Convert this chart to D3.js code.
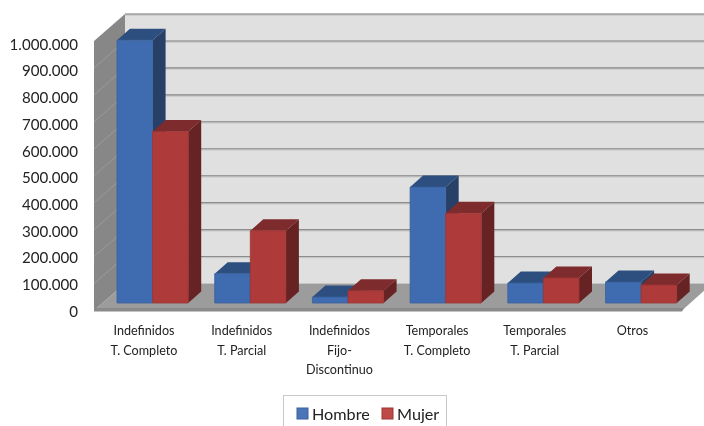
<!DOCTYPE html>
<html><head><meta charset="utf-8">
<script src="https://cdn.jsdelivr.net/npm/d3@7"></script>
<style>
html,body{margin:0;padding:0;background:#fff;overflow:hidden}
svg{display:block;filter:blur(0.35px)}
text{font-family:Lato,sans-serif;fill:#222}
</style></head><body>
<svg id="c" width="704" height="426"></svg>
<script>
const categories=[["Indefinidos","T. Completo"],["Indefinidos","T. Parcial"],["Indefinidos","Fijo-","Discontinuo"],["Temporales","T. Completo"],["Temporales","T. Parcial"],["Otros"]];
const keys=[0,1,2,3,4,5];
const seriesNames=["Hombre","Mujer"];
const hombre=[975000,109000,22000,430000,74000,78000];
const mujer=[636000,268000,45000,333000,93000,67000];
const yTicks=[0,100000,200000,300000,400000,500000,600000,700000,800000,900000,1000000];
const colors=[{front:"#3f6cb0",top:"#2d4f80",side:"#274068",edge:"#3a6199"},{front:"#ae3a3a",top:"#7e2b2d",side:"#672324",edge:"#9c3535"}];

const svg=d3.select("#c");
const line=d3.line();
const poly=(pts,fill,parent=svg)=>parent.append("path").attr("d",line(pts)+"Z").attr("fill",fill);

const left=94,right=682,front0=310.5,depthX=31,depthY=27,H=269.5;
const h=d3.scaleLinear().domain([0,1000000]).range([0,H]);
const x=d3.scaleBand().domain(keys).range([117,117+97.7*6]).paddingInner(0).paddingOuter(0);
const barW=35.6,bDx=13,bDy=11.5,base=303;

// walls
poly([[left+depthX,front0-depthY-H],[712,front0-depthY-H],[712,front0-depthY],[left+depthX,front0-depthY]],"#e0e0e0");
poly([[left,front0-H],[left+depthX,front0-depthY-H],[left+depthX,front0-depthY],[left,front0]],"#878787");
poly([[left,front0],[left+depthX,front0-depthY],[712,front0-depthY],[right,front0]],"#9c9c9c");
poly([[left,front0-2.5],[right+2,front0-2.5],[right,front0+1],[left,front0+1]],"#8a8a8a");

// gridlines
yTicks.forEach(v=>{
  const yb=front0-depthY-h(v), yf=front0-h(v);
  if(v>0){
    svg.append("line").attr("x1",left+depthX).attr("x2",704).attr("y1",yb+0.6).attr("y2",yb+0.6).attr("stroke","#c8c8c8").attr("stroke-width",2.4);
    svg.append("line").attr("x1",left+depthX).attr("x2",704).attr("y1",yb).attr("y2",yb).attr("stroke","#8c8c8c").attr("stroke-width",1.1);
  }
  if(v>0&&v<1000000) svg.append("line").attr("x1",left).attr("x2",left+depthX).attr("y1",yf).attr("y2",yb).attr("stroke","#9a9a9a").attr("stroke-width",1);
});

// bars
keys.forEach(k=>{
  [hombre,mujer].forEach((s,i)=>{
    const c=colors[i],x0=x(k)+i*barW,x1=x0+barW,t=base-h(s[k]);
    poly([[x0,t],[x0+bDx,t-bDy],[x1+bDx,t-bDy],[x1,t]],c.top);
    poly([[x1,t],[x1+bDx,t-bDy],[x1+bDx,base-bDy],[x1,base]],c.side);
    poly([[x0,t],[x1,t],[x1,base],[x0,base]],c.front).attr("stroke",c.edge).attr("stroke-width",0.8);
  });
});

// y axis
const fmt=d3.formatLocale({decimal:",",thousands:".",grouping:[3],currency:["","€"]}).format(",d");
const axisScale=d3.scaleLinear().domain([0,1000000]).range([311,44]);
const ax=svg.append("g").attr("transform","translate(78,0)").call(d3.axisLeft(axisScale).tickValues(yTicks).tickFormat(fmt).tickSize(0).tickPadding(0));
ax.select(".domain").remove();
ax.selectAll("text").style("font-family","Lato,sans-serif").attr("font-size",15.1).attr("fill","#222").attr("dy","0.35em");

// category labels
const lineYs=[331,350.5,370];
keys.forEach(k=>{
  const g=svg.append("g");
  categories[k].forEach((t,j)=>{
    g.append("text").attr("x",x(k)+27).attr("y",lineYs[j]).attr("dy","0.35em").attr("text-anchor","middle").attr("font-size",12.6).text(t);
  });
});

// legend
svg.append("rect").attr("x",283.5).attr("y",395.5).attr("width",163).attr("height",40).attr("fill","#fff").attr("stroke","#c8c8c8").attr("stroke-width",1);
[[297,"#4a76b8",312,0],[382,"#be4b48",397,1]].forEach(([lx,col,tx,i])=>{
  svg.append("rect").attr("x",lx).attr("y",408).attr("width",11).attr("height",11).attr("fill",col).attr("stroke",colors[i].edge).attr("stroke-width",1);
  svg.append("text").attr("x",tx).attr("y",414).attr("dy","0.35em").attr("font-size",16.2).text(seriesNames[i]);
});
</script>
</body></html>
